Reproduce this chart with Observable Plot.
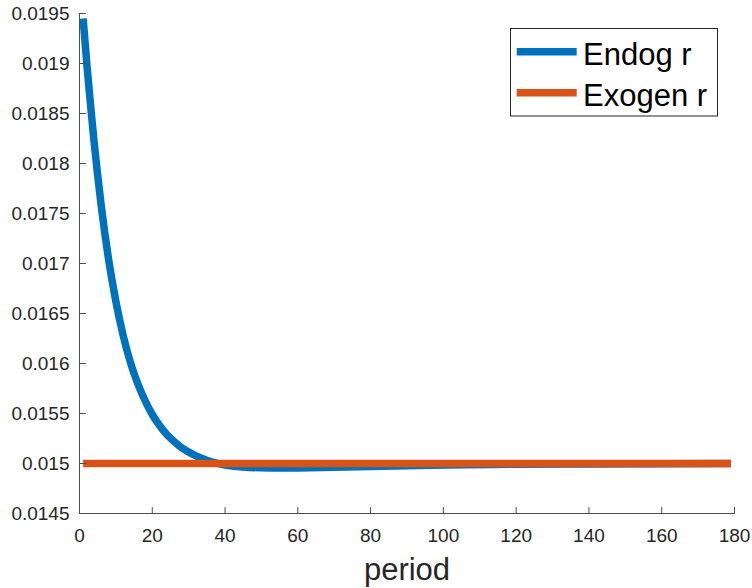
<!DOCTYPE html>
<html><head><meta charset="utf-8">
<script src="https://cdn.jsdelivr.net/npm/d3@7"></script>
<script src="https://cdn.jsdelivr.net/npm/@observablehq/plot@0.6"></script>
<style>html,body{margin:0;padding:0;background:#fff;} svg{display:block;}</style>
</head><body><div id="chart"></div>
<script>
const endogPeriods = [1, 2, 3, 4, 5, 6, 7, 8, 9, 10, 12, 14, 16, 18, 20, 22, 24, 26, 28, 30, 33, 36, 40, 45, 50, 55, 60, 70, 80, 90, 100, 120, 140, 160, 179];
const endogValues = [0.01945, 0.01900, 0.01860, 0.01822, 0.01788, 0.01757, 0.01729, 0.01704, 0.01682, 0.01662, 0.01628, 0.01601, 0.01580, 0.01563, 0.01549, 0.01538, 0.01529, 0.01522, 0.01516, 0.015115, 0.01506, 0.01502, 0.014985, 0.014965, 0.014957, 0.014955, 0.014956, 0.014962, 0.01497, 0.014978, 0.014984, 0.014992, 0.014996, 0.0149985, 0.015];
const exogPeriods = [1, 179];
const exogValues = [0.015, 0.015];
const xTicks = [0, 20, 40, 60, 80, 100, 120, 140, 160, 180];
const yTicks = [0.0145, 0.015, 0.0155, 0.016, 0.0165, 0.017, 0.0175, 0.018, 0.0185, 0.019, 0.0195];
const yTickLabels = ["0.0145", "0.015", "0.0155", "0.016", "0.0165", "0.017", "0.0175", "0.018", "0.0185", "0.019", "0.0195"];
const seriesNames = ["Endog r", "Exogen r"];
const seriesColors = ["#0072BD", "#D95319"];
const xLabel = "period";

const endog = endogPeriods.map((p, i) => ({period: p, value: endogValues[i]}));
const exog = exogPeriods.map((p, i) => ({period: p, value: exogValues[i]}));

const font = "'Liberation Sans', Arial, Helvetica, sans-serif";
const axisColor = "#4d4d4d";
const textColor = "#262626";
const tickShape = {draw(ctx, l) { ctx.moveTo(0, 0); ctx.lineTo(0, -l); }};

const plot = Plot.plot({
  width: 752, height: 588,
  marginLeft: 79, marginRight: 18, marginTop: 13, marginBottom: 75,
  style: {fontFamily: font, background: "#fff", color: textColor},
  x: {domain: [0, 180]},
  y: {domain: [0.0145, 0.0195]},
  marks: [
    Plot.axisX(xTicks, {tickSize: 0, tickPadding: 15, fontSize: 19, label: null, fill: textColor}),
    Plot.axisY(yTicks, {tickSize: 0, tickPadding: 10, fontSize: 19, label: null, fill: textColor,
      tickFormat: d => yTickLabels[yTicks.indexOf(d)]}),
    Plot.line(endog, {x: "period", y: "value", stroke: seriesColors[0], strokeWidth: 7.5, curve: "monotone-x", strokeLinecap: "butt"}),
    Plot.line(exog, {x: "period", y: "value", stroke: seriesColors[1], strokeWidth: 7.5, strokeLinecap: "butt"}),
    Plot.ruleX([0], {stroke: axisColor, strokeWidth: 1}),
    Plot.ruleY([0.0145], {stroke: axisColor, strokeWidth: 1}),
    Plot.vector(yTicks, {x: 0, y: d => d, length: 6, rotate: 90, anchor: "start", shape: tickShape, stroke: axisColor, strokeWidth: 1}),
    Plot.vector(xTicks, {x: d => d, y: 0.0145, length: 6, rotate: 0, anchor: "start", shape: tickShape, stroke: axisColor, strokeWidth: 1}),
    Plot.text([xLabel], {frameAnchor: "bottom", lineAnchor: "middle", dy: 56.5, fontSize: 31, fill: textColor, text: d => d})
  ]
});

// Legend (MATLAB-style box, top-right inside the axes)
const svg = d3.select(plot);
const lg = svg.append("g").attr("font-family", font).attr("text-anchor", "start");
lg.append("rect").attr("x", 510.5).attr("y", 28.5).attr("width", 207).attr("height", 87.5)
  .attr("fill", "#fff").attr("stroke", "#262626").attr("stroke-width", 1);
const rows = [51.7, 92.7];
seriesNames.forEach((name, i) => {
  lg.append("line").attr("x1", 516.7).attr("x2", 576.7).attr("y1", rows[i]).attr("y2", rows[i])
    .attr("stroke", seriesColors[i]).attr("stroke-width", 7.5);
  lg.append("text").attr("x", 583).attr("y", rows[i] + 13.3).attr("font-size", 31)
    .attr("text-anchor", "start").attr("fill", "#000").text(name);
});

document.getElementById("chart").appendChild(plot);
</script>
</body></html>
